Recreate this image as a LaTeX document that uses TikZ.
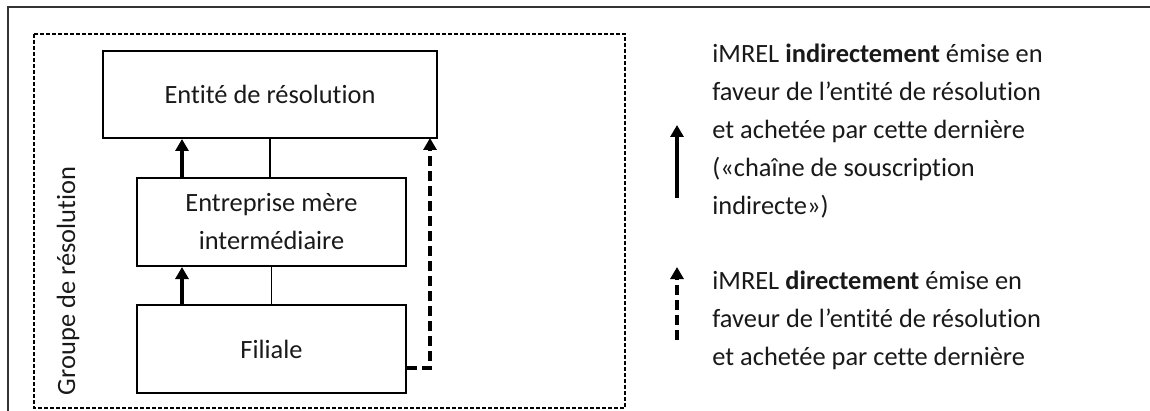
\documentclass[tikz,border=0pt]{standalone}
\usepackage{fontspec}
\setmainfont{Carlito}[Ligatures={NoCommon,NoContextual}, Contextuals=NoAlternate]
\usepackage{tikz}
\usetikzlibrary{positioning,calc,arrows.meta}

\tikzset{
  txt/.style={font=\fontsize{13.2pt}{19pt}\selectfont, text=black!90},
  entbox/.style={draw, line width=1pt, txt, align=center, inner sep=0pt},
  solidarrow/.style={line width=1.7pt, -{Triangle[width=6.5pt,length=6pt]}},
  dasharrow/.style={line width=1.7pt, dash pattern=on 5pt off 2.5pt, -{Triangle[width=6.5pt,length=6pt]}},
}

\begin{document}
\begin{tikzpicture}[x=0.5pt, y=-0.5pt]
    \useasboundingbox (0,0) rectangle (1150,411);

    % Frame
    \draw[black!80, line width=1.1pt] (8,411) -- (8,7) -- (1150,7);

    % Group
    \draw[line width=0.6pt, dash pattern=on 2pt off 1pt] (34,34) rectangle (625,408);
    \node[txt, rotate=90] (grp) at (68,281) {Groupe de résolution};

    % Entities
    \node[entbox, minimum width=167pt, minimum height=43.5pt] (top) at (270,94.5) {Entité de résolution};
    \node[entbox, minimum width=134.5pt, minimum height=44pt] (mid) at (271.5,222) {Entreprise mère\\intermédiaire};
    \node[entbox, minimum width=134.5pt, minimum height=44pt] (bot) at (271.5,349) {Filiale};

    % Links
    \draw[line width=0.8pt] (top.south) -- (top.south |- mid.north);
    \draw[line width=0.8pt] (mid.south) -- (mid.south |- bot.north);
    \draw[solidarrow] ([xshift=-44.75pt]mid.north) -- ([xshift=-44.75pt]mid.north |- top.south);
    \draw[solidarrow] ([xshift=-44.75pt]bot.north) -- ([xshift=-44.75pt]bot.north |- mid.south);
    \coordinate (dtop) at (430,138);
    \draw[dasharrow] ([yshift=-9.5pt]bot.east) -| (dtop);

    % Legend
    \coordinate (l1s) at (677,198);
    \coordinate (l1e) at (677,125);
    \coordinate (l2s) at (677,340);
    \coordinate (l2e) at (677,267);
    \draw[solidarrow] (l1s) -- (l1e);
    \draw[dasharrow] (l2s) -- (l2e);
    \node[txt, anchor=west, align=left, inner sep=0pt] (leg1) at (712,131)
      {iMREL \textbf{indirectement} émise en\\faveur de l’entité de résolution\\et achetée par cette dernière\\(«chaîne de souscription\\indirecte»)};
    \node[txt, anchor=west, align=left, inner sep=0pt] (leg2) at (712,320)
      {iMREL \textbf{directement} émise en\\faveur de l’entité de résolution\\et achetée par cette dernière};
\end{tikzpicture}
\end{document}
